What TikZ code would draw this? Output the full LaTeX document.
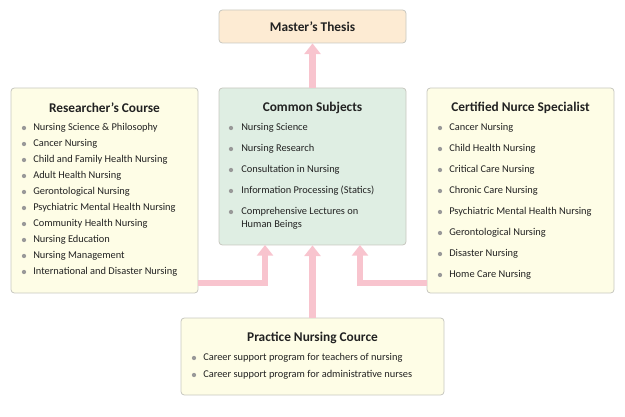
\documentclass[tikz,border=0pt]{standalone}
\usepackage{fontspec}
\setmainfont{Carlito}
\usetikzlibrary{arrows.meta}
\definecolor{boxy}{HTML}{FEFDE6}
\definecolor{boxg}{HTML}{DFEEE3}
\definecolor{boxp}{HTML}{FDEBD3}
\definecolor{edge}{HTML}{C8C8C0}
\definecolor{pinkar}{HTML}{F8C4CE}
\definecolor{txt}{HTML}{222222}
\definecolor{bul}{HTML}{999999}
\begin{document}
\begin{tikzpicture}[x=0.75pt,y=-0.75pt,
  panel/.style={draw=edge,line width=0.6pt,rounded corners=2.5pt},
  ttl/.style={font=\fontsize{10}{12}\selectfont\bfseries,text=txt},
  itm/.style={font=\fontsize{7.8}{9.4}\selectfont,text=txt,anchor=west,align=left,inner sep=0pt},
  bl/.style={circle,fill=bul,inner sep=0pt,minimum size=3.2pt},
  conn/.style={draw=pinkar,line width=5.2pt,-{Triangle[width=12pt,length=8pt]}}]
\useasboundingbox (0,0) rectangle (625,417);
% boxes
\node[panel,fill=boxp,minimum width=140.25pt,minimum height=24.75pt] (ms) at (312.5,26.5) {};
\node[panel,fill=boxy,minimum width=140.25pt,minimum height=153.75pt] (rc) at (104.5,190.5) {};
\node[panel,fill=boxg,minimum width=140.25pt,minimum height=117.75pt] (cs) at (312.5,166.5) {};
\node[panel,fill=boxy,minimum width=140.25pt,minimum height=153.75pt] (cn) at (520.5,190.5) {};
\node[panel,fill=boxy,minimum width=197.25pt,minimum height=57.75pt] (pn) at (312.5,356.5) {};
% titles
\node[ttl] at (312.5,27) {Master’s Thesis};
\node[ttl] at (104.5,108) {Researcher’s Course};
\node[ttl] at (312.5,108) {Common Subjects};
\node[ttl] at (520.5,108) {Certified Nurce Specialist};
\node[ttl] at (312.5,338) {Practice Nursing Cource};
% connectors
\coordinate (rl) at (198,283); \coordinate (rr) at (427,283);
\coordinate (cl) at (265,245); \coordinate (cr) at (360,245);
\draw[conn] (cs.north) -- (ms.south);
\draw[conn] (pn.north) -- (cs.south);
\draw[conn] (rl) -| (cl);
\draw[conn] (rr) -| (cr);
% lists
\foreach \t [count=\i] in {Nursing Science \& Philosophy,Cancer Nursing,Child and Family Health Nursing,Adult Health Nursing,Gerontological Nursing,Psychiatric Mental Health Nursing,Community Health Nursing,Nursing Education,Nursing Management,International and Disaster Nursing}{
  \node[bl] at (24,112+16*\i) {};
  \node[itm] at (33,112+16*\i) {\t};}
\foreach \t [count=\i] in {Nursing Science,Nursing Research,Consultation in Nursing,Information Processing (Statics)}{
  \node[bl] at (231,107+21*\i) {};
  \node[itm] at (241,107+21*\i) {\t};}
\node[bl] at (231,212) {};
\node[itm,anchor=north west] at (241,207.5) {Comprehensive Lectures on\\Human Beings};
\foreach \t [count=\i] in {Cancer Nursing,Child Health Nursing,Critical Care Nursing,Chronic Care Nursing,Psychiatric Mental Health Nursing,Gerontological Nursing,Disaster Nursing,Home Care Nursing}{
  \node[bl] at (440,107+21*\i) {};
  \node[itm] at (449,107+21*\i) {\t};}
\node[bl] at (194,358) {};
\node[itm] at (203,358) {Career support program for teachers of nursing};
\node[bl] at (194,375) {};
\node[itm] at (203,375) {Career support program for administrative nurses};
\end{tikzpicture}
\end{document}
